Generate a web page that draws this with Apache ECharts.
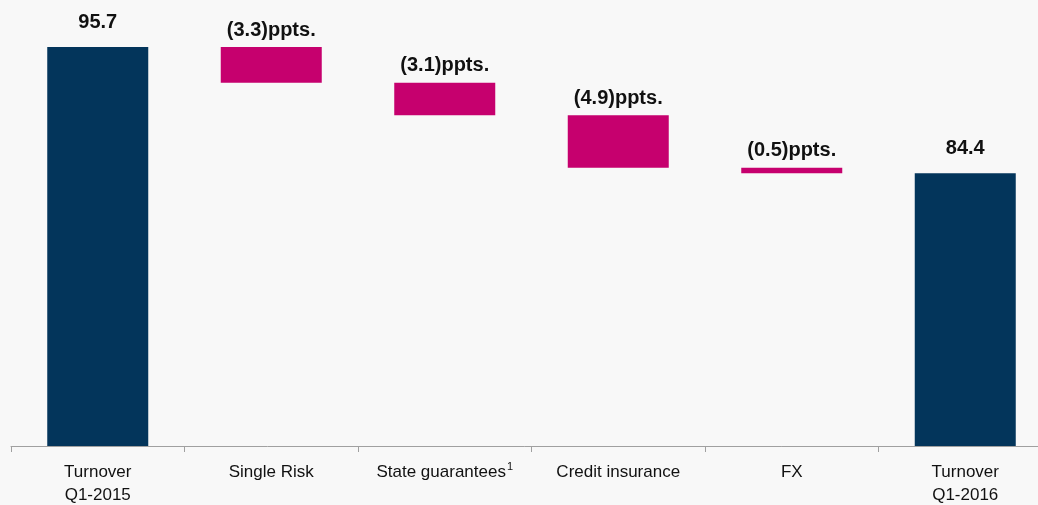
<!DOCTYPE html>
<html>
<head>
<meta charset="utf-8">
<script src="https://cdn.jsdelivr.net/npm/echarts@6/dist/echarts.min.js"></script>
<style>
  html, body { margin: 0; padding: 0; background: #f8f8f8; }
  #main { width: 1038px; height: 505px; }
</style>
</head>
<body>
<div id="main"></div>
<script>
const categories = ['Turnover\nQ1-2015', 'Single Risk', 'State guarantees', 'Credit insurance', 'FX', 'Turnover\nQ1-2016']
// full bars (start and end)
const totals = [95.7, '-', '-', '-', '-', 84.4]
// bottom edge of each floating step, as drawn
const stepBase = ['-', 92.5, 89.6, 84.9, 84.4, '-']
// drawn height of each step
const stepSize = ['-', 3.2, 2.9, 4.7, 0.5, '-']
const stepLabels = ['', '(3.3)ppts.', '(3.1)ppts.', '(4.9)ppts.', '(0.5)ppts.', '']

const FONT = "'Liberation Sans', Arial, sans-serif"

const chart = echarts.init(document.getElementById('main'))
chart.setOption({
  backgroundColor: '#f8f8f8',
  animation: false,
  grid: { left: 11, right: -14, top: -1, bottom: 59, outerBoundsMode: 'none' },
  xAxis: {
    type: 'category',
    data: categories,
    axisLine: { lineStyle: { color: '#a0a0a0', width: 1 } },
    axisTick: { show: true, length: 6, lineStyle: { color: '#a0a0a0' } },
    axisLabel: {
      interval: 0,
      margin: 15,
      color: '#111',
      fontFamily: FONT,
      fontSize: 17,
      lineHeight: 23,
      formatter: function (v) {
        if (v === 'State guarantees') return '{t|State guarantees}{s|1}'
        return v
      },
      rich: {
        t: { fontFamily: FONT, fontSize: 17, color: '#111' },
        s: { fontFamily: FONT, fontSize: 11, color: '#111', padding: [0, 0, 11, 1] }
      }
    }
  },
  yAxis: { type: 'value', min: 60, max: 100, show: false, splitLine: { show: false } },
  series: [
    {
      type: 'bar',
      stack: 'w',
      data: stepBase,
      barWidth: 101,
      itemStyle: { color: 'transparent' },
      silent: true
    },
    {
      type: 'bar',
      stack: 'w',
      data: totals,
      barWidth: 101,
      itemStyle: { color: '#03355b' },
      label: {
        show: true,
        position: 'top',
        distance: 15,
        color: '#111',
        fontFamily: FONT,
        fontWeight: 'bold',
        fontSize: 20,
        formatter: function (p) { return p.value.toFixed(1) }
      }
    },
    {
      type: 'bar',
      stack: 'w',
      data: stepSize,
      barWidth: 101,
      itemStyle: { color: '#c6006e' },
      label: {
        show: true,
        position: 'top',
        distance: 7,
        color: '#111',
        fontFamily: FONT,
        fontWeight: 'bold',
        fontSize: 20,
        formatter: function (p) { return stepLabels[p.dataIndex] }
      }
    }
  ]
})
</script>
</body>
</html>
